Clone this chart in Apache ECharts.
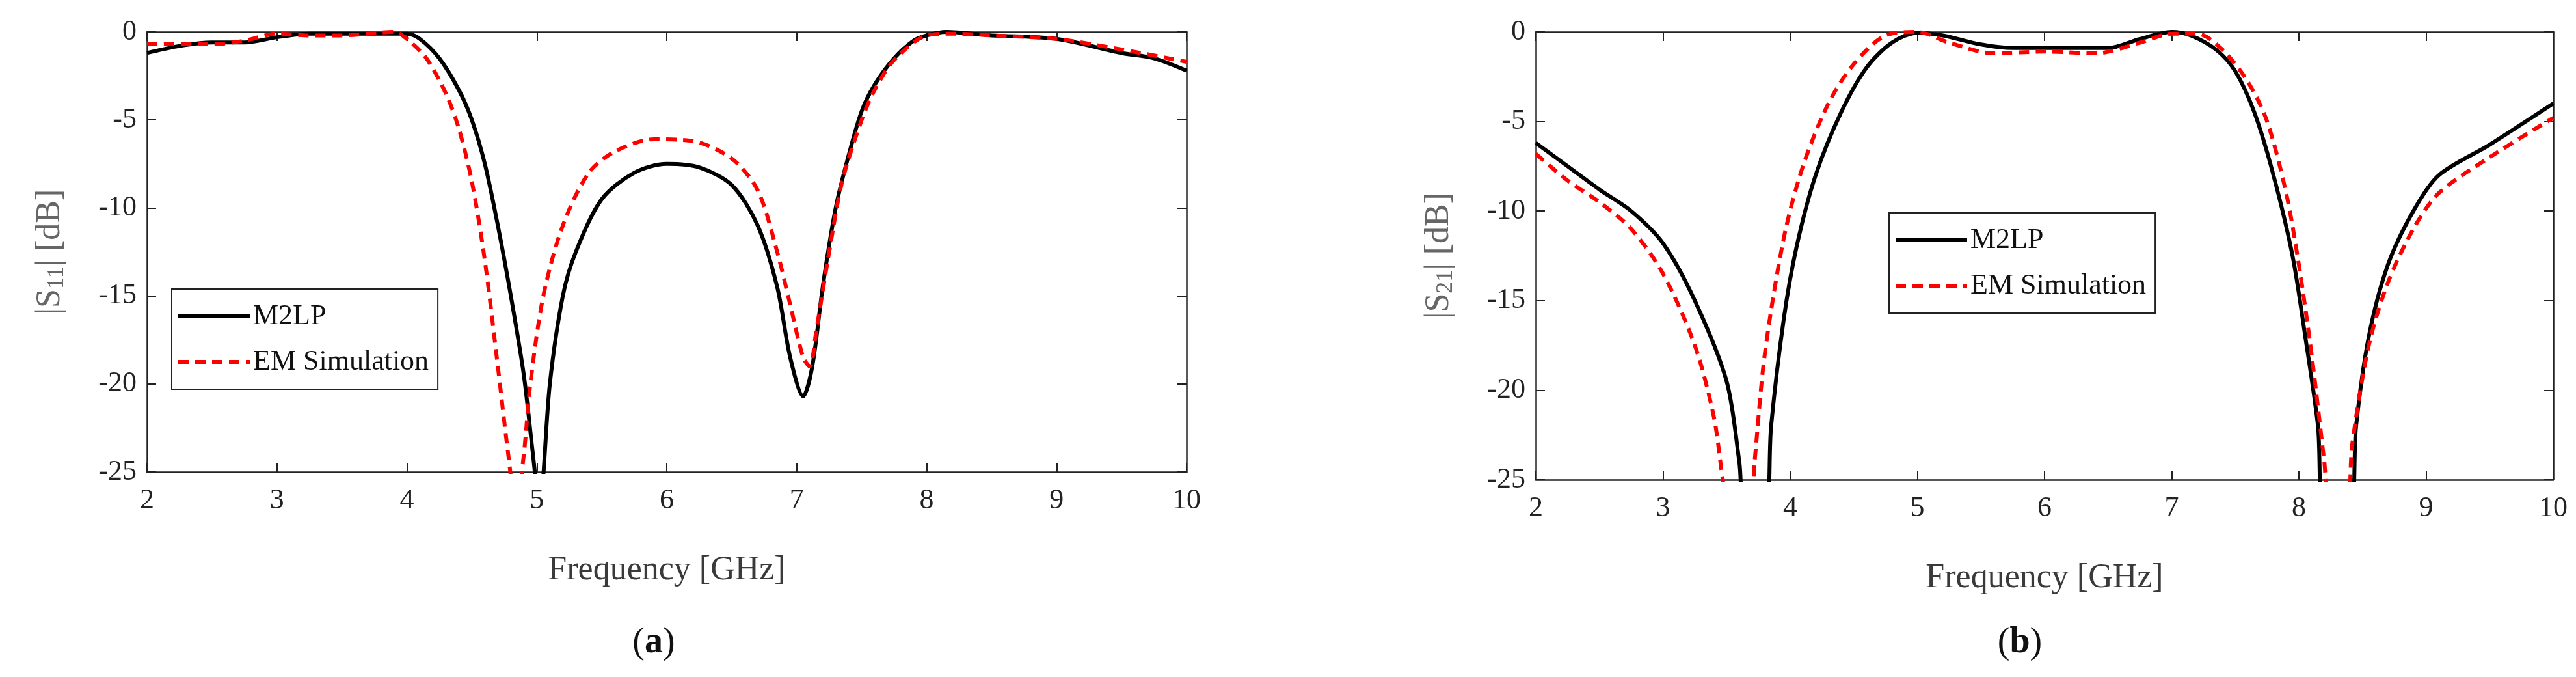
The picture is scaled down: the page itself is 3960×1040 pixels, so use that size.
<!DOCTYPE html>
<html><head><meta charset="utf-8">
<script src="https://cdn.jsdelivr.net/npm/echarts@6/dist/echarts.min.js"></script>
<style>html,body{margin:0;background:#fff}#c{width:3960px;height:1040px}</style>
</head><body><div id="c"></div>
<script>
// S11 data
const s11MFreq = [2,2.25,2.5,2.75,3,3.25,3.5,3.75,4,4.1,4.25,4.4,4.5,4.6,4.7,4.8,4.9,4.97,5.02,5.1,5.2,5.3,5.5,5.75,6,6.25,6.5,6.7,6.85,6.95,7.05,7.12,7.2,7.3,7.4,7.5,7.6,7.75,7.9,8,8.15,8.5,9,9.5,9.75,10];
const s11MVal = [-1.2,-0.8,-0.6,-0.6,-0.3,-0.1,-0.1,-0.1,-0.1,-0.4,-1.5,-3.3,-5,-7.5,-11,-15,-19.5,-24,-27,-20,-15,-12.5,-9.5,-8,-7.5,-7.7,-8.7,-11,-14.5,-18.5,-20.7,-19,-14.5,-10,-7,-4.5,-3,-1.5,-0.5,-0.2,0,-0.2,-0.4,-1.2,-1.5,-2.2];
const s11EFreq = [2,2.5,2.75,3,3.25,3.5,3.9,4,4.15,4.3,4.4,4.5,4.6,4.7,4.78,4.84,4.9,4.95,5.05,5.2,5.4,5.6,5.9,6.2,6.5,6.7,6.85,6.95,7.05,7.1,7.15,7.25,7.35,7.5,7.6,7.75,8,8.2,8.5,9,9.5,10];
const s11EVal = [-0.7,-0.7,-0.5,-0.1,-0.2,-0.2,0,-0.4,-1.5,-3.5,-5.5,-8.5,-13,-19,-24,-27,-24,-20,-15,-11,-8,-6.8,-6.1,-6.2,-7.2,-9,-12.5,-15.5,-18.5,-19,-17,-12.5,-8.5,-5,-3.3,-1.6,-0.2,-0.1,-0.2,-0.4,-1,-1.7];
// S21 data
const s21MFreq = [2,2.25,2.5,2.75,3,3.25,3.5,3.6,3.65,3.8,3.85,3.95,4.05,4.2,4.4,4.6,4.8,5,5.2,5.5,5.75,6,6.25,6.5,6.75,7,7.15,7.35,7.5,7.65,7.8,7.95,8.05,8.15,8.2,8.4,8.45,8.55,8.7,8.9,9.1,9.5,10];
const s21MVal = [-6.2,-7.5,-8.8,-10,-11.8,-15,-19.5,-24,-27,-27,-22,-16,-12,-8,-4.5,-2,-0.6,-0.05,-0.2,-0.7,-0.9,-0.9,-0.9,-0.9,-0.4,0,-0.2,-1,-2.2,-4.5,-8,-12.5,-17,-22,-27,-27,-22,-17,-13,-10,-8,-6.3,-4];
const s21EFreq = [2,2.25,2.5,2.75,3,3.25,3.4,3.47,3.52,3.68,3.72,3.8,3.95,4.1,4.3,4.5,4.75,5,5.25,5.6,6,6.4,6.75,7,7.2,7.4,7.6,7.75,7.9,8,8.1,8.2,8.25,8.37,8.42,8.55,8.7,8.9,9.1,9.5,10];
const s21EVal = [-6.8,-8.3,-9.5,-11,-13.5,-17.5,-21.5,-25,-27,-27,-24,-18,-11.5,-7.5,-4,-1.8,-0.2,0,-0.6,-1.2,-1.1,-1.2,-0.6,-0.1,-0.1,-1,-2.8,-5,-9,-13,-18,-24,-27,-27,-23,-17.5,-14,-11,-9,-7,-4.8];

const zip = (a, b) => a.map((x, i) => [x, b[i]]);
const font = 'Liberation Serif';
const grey = '#3a3a3a';
const grids = [
  {left: 226, width: 1598, top: 49, height: 676},
  {left: 2361, width: 1564, top: 49, height: 688}
];
const names = ['11', '21'];
let xAxis = [], yAxis = [];
grids.forEach((g, i) => {
  const base = {min: 2, max: 10, interval: 1, gridIndex: i,
    axisLine: {onZero: false, lineStyle: {color: '#222', width: 2.5}},
    axisTick: {inside: true, length: 14, lineStyle: {color: '#222', width: 2}},
    splitLine: {show: false}};
  xAxis.push(Object.assign({}, base, {type: 'value', position: 'bottom',
    name: 'Frequency [GHz]', nameLocation: 'middle', nameGap: 125,
    nameTextStyle: {fontFamily: font, fontSize: 52, color: grey},
    axisLabel: {fontFamily: font, fontSize: 44, color: '#222', margin: 22}}));
  xAxis.push(Object.assign({}, base, {type: 'value', position: 'top', axisLabel: {show: false}}));
  const ybase = {min: -25, max: 0, interval: 5, gridIndex: i,
    axisLine: {onZero: false, lineStyle: {color: '#222', width: 2.5}},
    axisTick: {inside: true, length: 14, lineStyle: {color: '#222', width: 2}},
    splitLine: {show: false}};
  yAxis.push(Object.assign({}, ybase, {type: 'value', position: 'left',
    name: '|S{sub|' + names[i] + '}| [dB]', nameLocation: 'middle', nameGap: 120, nameRotate: 90,
    nameTextStyle: {fontFamily: font, fontSize: 52, color: '#666',
      rich: {sub: {fontFamily: font, fontSize: 36, color: '#666', verticalAlign: 'bottom', padding: [22, 0, 0, 0]}}},
    axisLabel: {fontFamily: font, fontSize: 44, color: '#222', margin: 16}}));
  yAxis.push(Object.assign({}, ybase, {type: 'value', position: 'right', axisLabel: {show: false}}));
});

const mk = (name, data, i, dashed) => ({
  name, type: 'line', data, xAxisIndex: i * 2, yAxisIndex: i * 2, showSymbol: false,
  symbol: 'none', clip: true, smooth: 0.3,
  lineStyle: {color: dashed ? '#ff0000' : '#000', width: 6, type: dashed ? [16, 10] : 'solid'},
  itemStyle: {color: dashed ? '#ff0000' : '#000'}
});

const legendBase = {orient: 'vertical', itemWidth: 110, itemHeight: 20, itemGap: 26,
  data: [
    {name: 'M2LP', icon: 'path://M0,7 L110,7 L110,13 L0,13 Z'},
    {name: 'EM Simulation', icon: 'path://M0,7 L16,7 L16,13 L0,13 Z M26,7 L42,7 L42,13 L26,13 Z M52,7 L68,7 L68,13 L52,13 Z M78,7 L94,7 L94,13 L78,13 Z M104,7 L110,7 L110,13 L104,13 Z'}
  ],
  borderColor: '#222', borderWidth: 2, padding: [20, 14, 20, 10],
  textStyle: {fontFamily: font, fontSize: 44, color: '#111'}, backgroundColor: '#fff'};

const chart = echarts.init(document.getElementById('c'));
chart.setOption({
  animation: false,
  grid: grids,
  xAxis, yAxis,
  title: [
    {text: '({b|a})', left: 1000, top: 955, textAlign: 'center',
      textStyle: {fontFamily: font, fontSize: 56, fontWeight: 'normal', color: '#111', rich: {b: {fontFamily: font, fontSize: 56, fontWeight: 'bold', color: '#111'}}}},
    {text: '({b|b})', left: 3100, top: 955, textAlign: 'center',
      textStyle: {fontFamily: font, fontSize: 56, fontWeight: 'normal', color: '#111', rich: {b: {fontFamily: font, fontSize: 56, fontWeight: 'bold', color: '#111'}}}}
  ],
  legend: [
    Object.assign({}, legendBase, {left: 264, top: 444}),
    Object.assign({}, legendBase, {left: 2904, top: 327})
  ],
  series: [
    mk('M2LP', zip(s11MFreq, s11MVal), 0, false),
    mk('EM Simulation', zip(s11EFreq, s11EVal), 0, true),
    mk('M2LP', zip(s21MFreq, s21MVal), 1, false),
    mk('EM Simulation', zip(s21EFreq, s21EVal), 1, true)
  ]
});
window.addEventListener('resize', () => chart.resize());
</script></body></html>
